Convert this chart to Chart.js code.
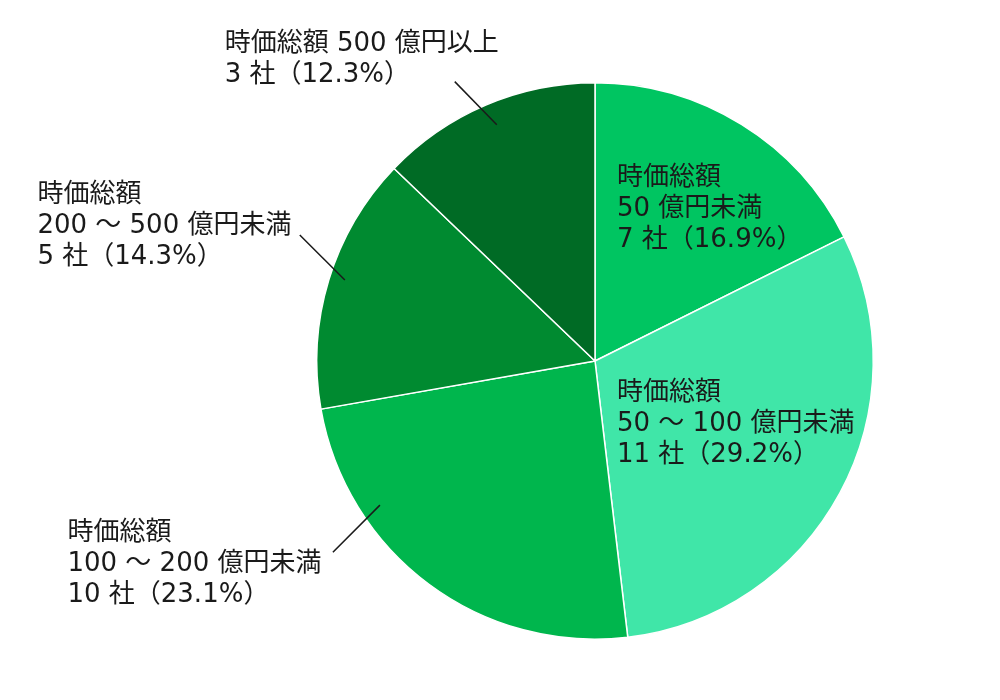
<!DOCTYPE html>
<html lang="ja">
<head>
<meta charset="utf-8">
<script src="https://cdn.jsdelivr.net/npm/chart.js@4.4.1/dist/chart.umd.min.js"></script>
<style>
  html, body { margin: 0; padding: 0; background: #ffffff; }
  #wrap { width: 1000px; height: 700px; position: relative; }
</style>
</head>
<body>
<div id="wrap"><canvas id="capPie"></canvas></div>
<script>
// data
const categories = ['50 億円未満', '50 ～ 100 億円未満', '100 ～ 200 億円未満', '200 ～ 500 億円未満', '500 億円以上'];
const companies = [7, 11, 10, 5, 3];
const shares = [16.9, 29.2, 23.1, 14.3, 12.3];

const sliceColors = ['#00c561', '#40e6a8', '#00b64d', '#008a30', '#006b25'];

// label layout, in units of the pie radius, measured from the centre
const labelLayout = [
    { x: 0.079, y: -0.658, oneLine: false },
    { x: 0.079, y: 0.115, oneLine: false },
    { x: -1.896, y: 0.619, oneLine: false, line: [-0.942, 0.687, -0.773, 0.518] },
    { x: -2.004, y: -0.597, oneLine: false, line: [-1.061, -0.453, -0.899, -0.291] },
    { x: -1.331, y: -1.140, oneLine: true, line: [-0.504, -1.004, -0.353, -0.849] }
];

const LABEL_FONT = '26px "DejaVu Sans", "Noto Sans CJK JP", sans-serif';
const LINE_GAP = 31;

const pieLabels = {
    id: 'pieLabels',
    afterDatasetsDraw(chart) {
        const ctx = chart.ctx;
        const arcs = chart.getDatasetMeta(0).data;
        ctx.save();
        ctx.font = LABEL_FONT;
        ctx.fillStyle = '#1a1a1a';
        ctx.textAlign = 'left';
        ctx.textBaseline = 'middle';
        arcs.forEach((arc, i) => {
            const r = arc.outerRadius;
            const cx = arc.x, cy = arc.y;
            const lay = labelLayout[i];
            const rows = lay.oneLine
                ? ['時価総額 ' + categories[i], companies[i] + ' 社（' + shares[i] + '%）']
                : ['時価総額', categories[i], companies[i] + ' 社（' + shares[i] + '%）'];
            const tx = cx + lay.x * r;
            const ty = cy + lay.y * r;
            rows.forEach((t, k) => ctx.fillText(t, tx, ty + k * LINE_GAP));
            if (lay.line) {
                ctx.strokeStyle = '#1a1a1a';
                ctx.lineWidth = 1.5;
                ctx.beginPath();
                ctx.moveTo(cx + lay.line[0] * r, cy + lay.line[1] * r);
                ctx.lineTo(cx + lay.line[2] * r, cy + lay.line[3] * r);
                ctx.stroke();
            }
        });
        ctx.restore();
    }
};

new Chart(document.getElementById('capPie'), {
    type: 'pie',
    data: {
        labels: categories,
        datasets: [{
            data: shares,
            backgroundColor: sliceColors,
            borderColor: '#ffffff',
            borderWidth: 1.5
        }]
    },
    options: {
        responsive: true,
        maintainAspectRatio: false,
        animation: false,
        layout: { padding: { left: 316, right: 126, top: 82, bottom: 60 } },
        plugins: {
            legend: { display: false },
            tooltip: { enabled: false }
        }
    },
    plugins: [pieLabels]
});
</script>
</body>
</html>
